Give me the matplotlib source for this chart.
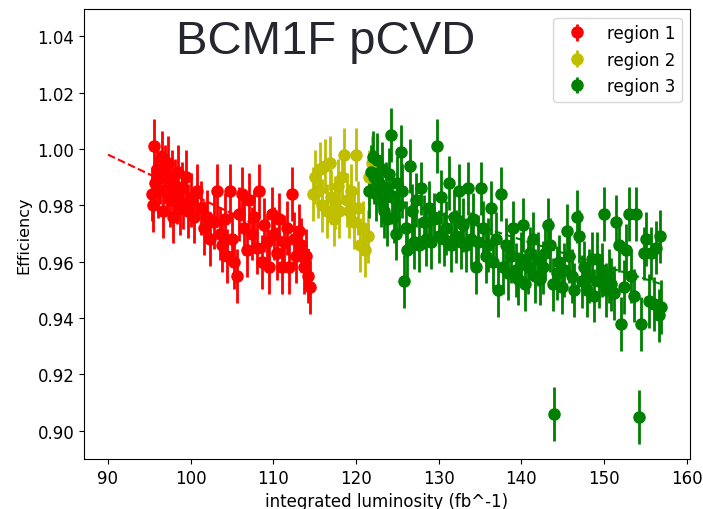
import numpy as np
import matplotlib
matplotlib.use("Agg")
import matplotlib.pyplot as plt

# region 1 (red)
x1 = [95.3, 95.4, 95.6, 95.7, 95.9, 96.1, 96.3, 96.5, 96.7, 96.9, 97.1, 97.3, 97.5, 97.7,
      97.9, 98.1, 98.3, 98.5, 98.7, 98.9, 99.1, 99.4, 99.7, 100.0, 100.4, 100.8, 101.2,
      101.6, 102.0, 102.4, 102.8, 103.2, 103.5, 103.8, 104.1, 104.4, 104.7, 105.0, 105.3,
      105.6, 105.9, 106.2, 106.5, 106.8, 107.1, 107.4, 107.7, 108.0, 108.3, 108.6, 108.9,
      109.2, 109.5, 109.8, 110.1, 110.4, 110.7, 111.0, 111.3, 111.6, 111.9, 112.2, 112.5,
      112.8, 113.1, 113.4, 113.7, 114.0, 114.2, 114.4]
y1 = [0.984, 0.980, 1.001, 0.988, 0.993, 0.985, 0.990, 0.997, 0.978, 0.992, 0.986, 0.995,
      0.982, 0.990, 0.976, 0.987, 0.983, 0.992, 0.979, 0.986, 0.981, 0.990, 0.978, 0.982,
      0.976, 0.985, 0.979, 0.972, 0.976, 0.968, 0.974, 0.985, 0.970, 0.966, 0.975, 0.962,
      0.985, 0.968, 0.960, 0.955, 0.977, 0.984, 0.972, 0.964, 0.982, 0.970, 0.976, 0.965,
      0.985, 0.960, 0.973, 0.967, 0.958, 0.977, 0.970, 0.963, 0.975, 0.958, 0.967, 0.972,
      0.958, 0.984, 0.968, 0.962, 0.971, 0.966, 0.958, 0.962, 0.955, 0.951]

# region 2 (yellow)
x2 = [114.8, 115.1, 115.4, 115.7, 115.9, 116.2, 116.5, 116.8, 117.0, 117.3, 117.5, 117.8,
      118.0, 118.3, 118.6, 118.9, 119.2, 119.4, 119.7, 120.0, 120.2, 120.5, 120.8, 121.1,
      121.4, 121.6, 121.9]
y2 = [0.984, 0.990, 0.985, 0.993, 0.980, 0.994, 0.978, 0.995, 0.983, 0.975, 0.981, 0.987,
      0.978, 0.990, 0.998, 0.982, 0.978, 0.985, 0.974, 0.998, 0.979, 0.966, 0.972, 0.964,
      0.969, 0.990, 0.995]

# region 3 (green)
x3 = [121.6, 121.8, 122.0, 122.2, 122.4, 122.6, 122.8, 123.0, 123.2, 123.4, 123.6, 123.8,
      124.0, 124.2, 124.4, 124.6, 124.8, 125.0, 125.2, 125.4, 125.6, 125.8, 126.0, 126.2,
      126.5, 126.8, 127.0, 127.3, 127.6, 127.9, 128.2, 128.5, 128.8, 129.1, 129.4, 129.8,
      130.0, 130.3, 130.6, 130.9, 131.2, 131.5, 131.8, 132.1, 132.4, 132.7, 133.0, 133.3,
      133.6, 133.9, 134.2, 134.5, 134.8, 135.1, 135.4, 135.7, 136.0, 136.3, 136.6, 136.9,
      137.2, 137.5, 137.8, 138.1, 138.4, 138.7, 139.0, 139.3, 139.6, 139.9, 140.2, 140.5,
      140.8, 141.1, 141.4, 141.7, 142.0, 142.3, 142.6, 142.9, 143.2, 143.5, 143.8, 144.0,
      144.3, 144.6, 144.9, 145.2, 145.5, 145.8, 146.1, 146.4, 146.7, 147.0, 147.3, 147.6,
      147.9, 148.2, 148.5, 148.8, 149.1, 149.4, 149.7, 150.0, 150.3, 150.6, 150.9, 151.2,
      151.5, 151.8, 152.1, 152.4, 152.7, 153.0, 153.3, 153.6, 153.9, 154.2, 154.5, 154.8,
      155.1, 155.4, 155.7, 156.0, 156.3, 156.6, 156.8, 156.9]
y3 = [0.985, 0.992, 0.997, 0.990, 0.984, 0.996, 0.988, 0.982, 0.993, 0.978, 0.986, 0.975,
      0.991, 1.005, 0.983, 0.976, 0.970, 0.988, 0.980, 0.999, 0.985, 0.953, 0.972, 0.964,
      0.994, 0.978, 0.967, 0.982, 0.966, 0.986, 0.974, 0.968, 0.979, 0.967, 0.975, 1.001,
      0.969, 0.983, 0.968, 0.972, 0.988, 0.966, 0.976, 0.969, 0.985, 0.967, 0.973, 0.966,
      0.986, 0.968, 0.975, 0.958, 0.967, 0.986, 0.972, 0.962, 0.966, 0.979, 0.960, 0.968,
      0.950, 0.984, 0.958, 0.966, 0.956, 0.962, 0.972, 0.957, 0.954, 0.961, 0.973, 0.952,
      0.958, 0.963, 0.968, 0.955, 0.961, 0.954, 0.958, 0.963, 0.973, 0.966, 0.952, 0.906,
      0.956, 0.960, 0.951, 0.957, 0.971, 0.962, 0.955, 0.950, 0.976, 0.969, 0.953, 0.958,
      0.950, 0.955, 0.961, 0.948, 0.961, 0.953, 0.957, 0.977, 0.950, 0.955, 0.952, 0.949,
      0.974, 0.966, 0.938, 0.951, 0.964, 0.977, 0.955, 0.948, 0.977, 0.905, 0.938, 0.963,
      0.968, 0.946, 0.963, 0.945, 0.965, 0.941, 0.969, 0.944]

yerr = 0.0095

# linear fits per region (dashed)
fit1_x = [90.0, 114.4]
fit1_y = [0.998, 0.964]
fit2_x = [114.4, 122.0]
fit2_y = [0.990, 0.968]
fit3_x = [121.5, 157.0]
fit3_y = [0.985, 0.952]

fig = plt.figure(figsize=(7.03, 5.10), dpi=100)
ax = fig.add_axes([0.1195, 0.098, 0.862, 0.882])

ax.plot(fit1_x, fit1_y, '--', color='r', lw=1.5, zorder=1)
ax.plot(fit2_x, fit2_y, '--', color='y', lw=1.5, zorder=1)
ax.plot(fit3_x, fit3_y, '--', color='g', lw=1.5, zorder=1)

kw = dict(yerr=yerr, fmt='o', markersize=8, elinewidth=2, zorder=2)
ax.errorbar(x1, y1, color='r', label='region 1', **kw)
ax.errorbar(x2, y2, color='y', label='region 2', **kw)
ax.errorbar(x3, y3, color='g', label='region 3', **kw)

ax.set_xlim(87.1, 160.4)
ax.set_ylim(0.89, 1.0496)
ax.set_xticks([90, 100, 110, 120, 130, 140, 150, 160])
ax.set_yticks([0.90, 0.92, 0.94, 0.96, 0.98, 1.00, 1.02, 1.04])
ax.set_yticklabels(["0.90", "0.92", "0.94", "0.96", "0.98", "1.00", "1.02", "1.04"])
ax.tick_params(labelsize=12)
ax.set_xlabel("integrated luminosity (fb^-1)", fontsize=12)
ax.set_ylabel("Efficiency", fontsize=11.5)
ax.legend(loc='upper right', fontsize=12)

ax.text(0.398, 0.929, "BCM1F pCVD", transform=ax.transAxes, ha='center', va='center',
        fontsize=34, family='Liberation Sans', color='#26262e')

fig.savefig("out.png", dpi=100)
